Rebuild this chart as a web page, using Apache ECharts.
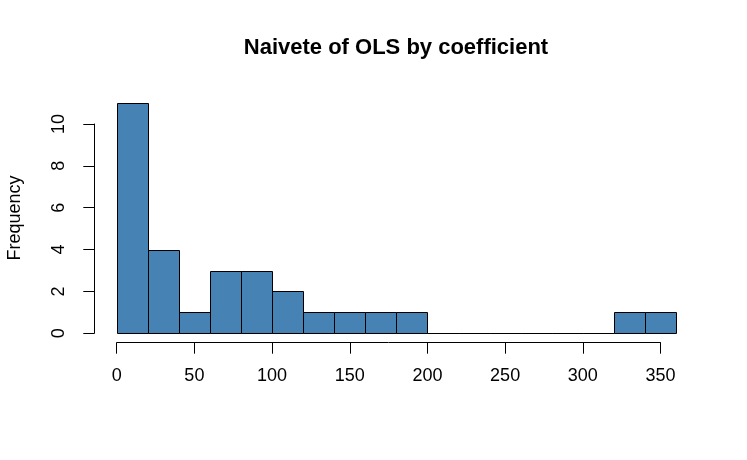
<!DOCTYPE html>
<html>
<head>
<meta charset="utf-8">
<script src="https://cdn.jsdelivr.net/npm/echarts@6/dist/echarts.min.js"></script>
<style>
  html, body { margin: 0; padding: 0; background: #fff; }
  #main { width: 747px; height: 460px; }
</style>
</head>
<body>
<div id="main"></div>
<script>
// histogram bins (left edges, right edges) and counts
const binStarts = [0, 20, 40, 60, 80, 100, 120, 140, 160, 180, 200, 220, 240, 260, 280, 300, 320, 340];
const binEnds = [20, 40, 60, 80, 100, 120, 140, 160, 180, 200, 220, 240, 260, 280, 300, 320, 340, 360];
const counts = [11, 4, 1, 3, 3, 2, 1, 1, 1, 1, 0, 0, 0, 0, 0, 0, 1, 1];
const titleText = "Naivete of OLS by coefficient";
const yName = "Frequency";

const font = "Liberation Sans, Arial, Helvetica, sans-serif";

const chart = echarts.init(document.getElementById("main"));

const histData = [];
for (let i = 0; i < counts.length; i++) {
    histData.push([binStarts[i], binEnds[i], counts[i]]);
}

function renderBar(params, api) {
    const p0 = api.coord([api.value(0), api.value(2)]);
    const p1 = api.coord([api.value(1), 0]);
    const x0 = Math.round(p0[0]) + 0.5;
    const x1 = Math.round(p1[0]) + 0.5;
    const y0 = Math.round(p0[1]) + 0.5;
    const y1 = Math.round(p1[1]) + 0.5;
    return {
        type: "rect",
        shape: { x: x0, y: y0, width: x1 - x0, height: y1 - y0 },
        style: { fill: "#4682B4", stroke: "#000", lineWidth: 1 }
    };
}

const option = {
    animation: false,
    backgroundColor: "#fff",
    title: {
        text: titleText,
        left: 396,
        textAlign: "center",
        top: 37,
        padding: 0,
        textStyle: { fontFamily: font, fontWeight: "bold", fontSize: 22, color: "#000" }
    },
    grid: {
        left: 116.7,
        width: 543.8,
        top: 124,
        height: 209.3
    },
    xAxis: {
        type: "value",
        min: 0,
        max: 350,
        interval: 50,
        offset: 9.4,
        splitLine: { show: false },
        axisLine: { show: true, onZero: false, lineStyle: { color: "#000", width: 1 } },
        axisTick: { show: true, length: 11, lineStyle: { color: "#000" } },
        axisLabel: { margin: 24, color: "#000", fontSize: 18, fontFamily: font }
    },
    yAxis: {
        type: "value",
        min: 0,
        max: 10,
        interval: 2,
        offset: 22.4,
        splitLine: { show: false },
        axisLine: { show: true, onZero: false, lineStyle: { color: "#000", width: 1 } },
        axisTick: { show: true, length: 11, lineStyle: { color: "#000" } },
        axisLabel: { margin: 26, rotate: 90, color: "#000", fontSize: 18, fontFamily: font }
    },
    graphic: [{
        type: "text",
        x: 15,
        y: 218,
        rotation: Math.PI / 2,
        style: {
            text: yName,
            fill: "#000",
            font: "18px " + font,
            textAlign: "center",
            textVerticalAlign: "middle"
        }
    }],
    series: [{
        type: "custom",
        clip: false,
        silent: true,
        renderItem: renderBar,
        encode: { x: [0, 1], y: 2 },
        data: histData
    }]
};

chart.setOption(option);
</script>
</body>
</html>
